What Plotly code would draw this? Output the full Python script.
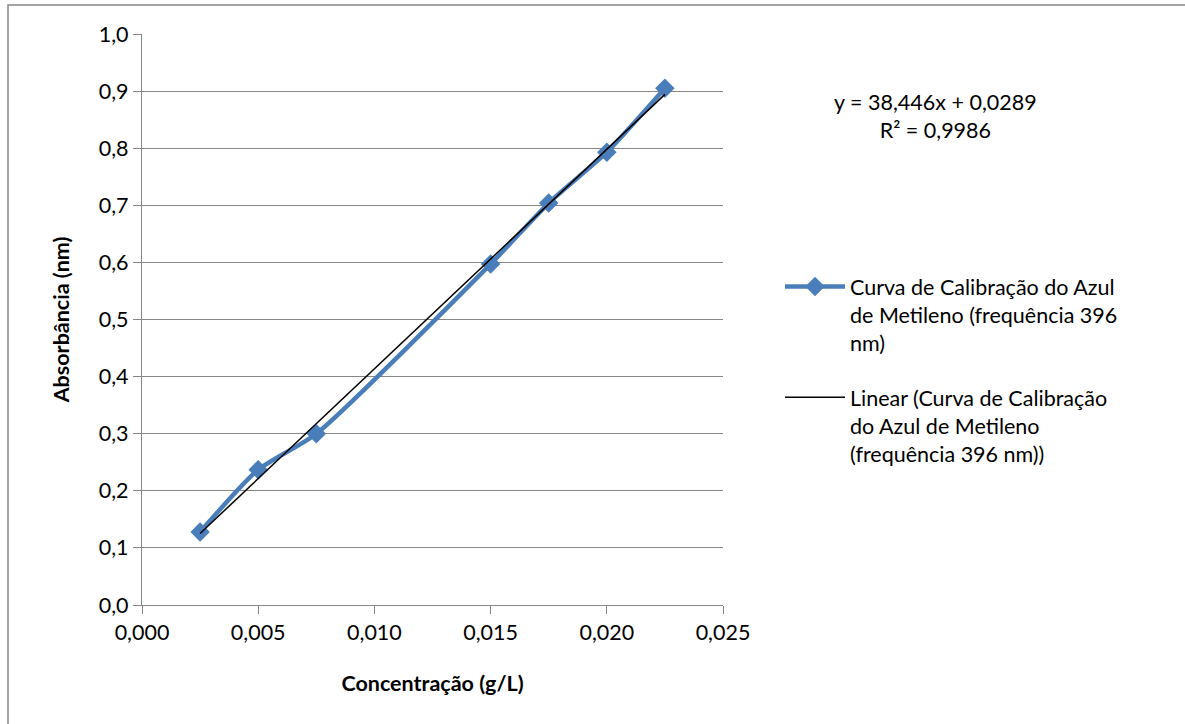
import numpy as np
import plotly.graph_objects as go

conc = [0.0025, 0.005, 0.0075, 0.015, 0.0175, 0.020, 0.0225]
absorb = [0.128, 0.237, 0.300, 0.597, 0.704, 0.793, 0.905]
x_ticks = [0.000, 0.005, 0.010, 0.015, 0.020, 0.025]
y_ticks = [0.0, 0.1, 0.2, 0.3, 0.4, 0.5, 0.6, 0.7, 0.8, 0.9, 1.0]

series_name = "Curva de Calibração do Azul<br>de Metileno (frequência 396<br>nm)"
trend_name = "Linear (Curva de Calibração<br>do Azul de Metileno<br>(frequência 396 nm))"

slope, intercept = np.polyfit(conc, absorb, 1)
fit_x = [conc[0], conc[-1]]
fit_y = [slope * v + intercept for v in fit_x]

FONT = "Lato"
FS = 21.5
W, H = 1185, 724
L, R, T, B = 142, 723, 34, 605
pw, ph = R - L, B - T

fig = go.Figure()
fig.add_trace(go.Scatter(
    x=conc, y=absorb, mode="lines+markers", name=series_name, legendgroup="a",
    line=dict(color="#4A7EBB", width=4.5, shape="spline", smoothing=0.6),
    marker=dict(symbol="diamond", size=15, color="#4A7EBB"),
))
fig.add_trace(go.Scatter(
    x=fit_x, y=fit_y, mode="lines", name=trend_name, legendgroup="b",
    line=dict(color="black", width=1.5),
))

fig.add_annotation(
    x=(935 - L) / pw, y=(B - 116) / ph, xref="paper", yref="paper",
    xanchor="center", yanchor="middle",
    text="y = 38,446x + 0,0289<br>R² = 0,9986", showarrow=False,
    font=dict(family=FONT, size=FS, color="black"), align="center",
)

fig.add_shape(type="rect", xref="paper", yref="paper",
              x0=(8 - L) / pw, x1=(1250 - L) / pw,
              y0=(B - 800) / ph, y1=(B - 5) / ph,
              line=dict(color="#868686", width=1.5), fillcolor="rgba(0,0,0,0)", layer="below")

axis_common = dict(
    showline=True, linecolor="#868686", linewidth=1.3,
    ticks="outside", ticklen=8, tickcolor="#868686",
    tickfont=dict(family=FONT, size=FS, color="black"),
    zeroline=False,
)

fig.update_layout(
    width=W, height=H,
    margin=dict(l=L, r=W - R, t=T, b=H - B),
    paper_bgcolor="white", plot_bgcolor="white",
    separators=",.",
    showlegend=True,
    legend=dict(x=(780 - L) / pw, y=(B - 266) / ph, xanchor="left", yanchor="top",
                font=dict(family=FONT, size=FS, color="black"),
                tracegroupgap=24, itemwidth=60, valign="top", bgcolor="rgba(0,0,0,0)"),
    xaxis=dict(range=[0, 0.025], tickvals=x_ticks, tickformat=".3f",
               showgrid=False,
               title=dict(text="<b>Concentração (g/L)</b>", font=dict(family=FONT, size=FS, color="black"), standoff=31),
               **axis_common),
    yaxis=dict(range=[0, 1.0], tickvals=y_ticks, tickformat=".1f",
               showgrid=True, gridcolor="#868686", gridwidth=1.3,
               title=dict(text="<b>Absorbância (nm)</b>", font=dict(family=FONT, size=FS, color="black"), standoff=23),
               **axis_common),
)

fig.write_html("out.html")
